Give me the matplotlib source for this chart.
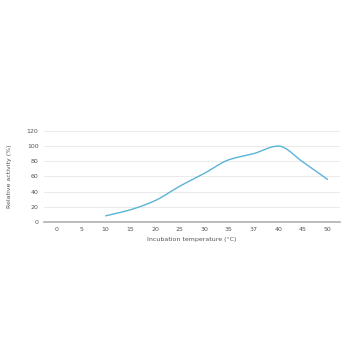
import numpy as np
import matplotlib
matplotlib.use("Agg")
import matplotlib.pyplot as plt

categories = ["0", "5", "10", "15", "20", "25", "30", "35", "37", "40", "45", "50"]
activity = [None, None, 8, 16, 28, 47, 64, 82, 90, 100, 79, 56]
y_ticks = [0, 20, 40, 60, 80, 100, 120]

def monotone(xs, ys, n=30):
    xs = np.asarray(xs, float); ys = np.asarray(ys, float)
    h = np.diff(xs); d = np.diff(ys) / h
    m = np.zeros_like(ys)
    m[0], m[-1] = d[0], d[-1]
    for i in range(1, len(ys) - 1):
        if d[i - 1] * d[i] <= 0:
            m[i] = 0
        else:
            w1 = 2 * h[i] + h[i - 1]; w2 = h[i] + 2 * h[i - 1]
            m[i] = (w1 + w2) / (w1 / d[i - 1] + w2 / d[i])
    X, Y = [], []
    for i in range(len(xs) - 1):
        t = np.linspace(0, 1, n)
        h00 = 2*t**3 - 3*t**2 + 1; h10 = t**3 - 2*t**2 + t
        h01 = -2*t**3 + 3*t**2; h11 = t**3 - t**2
        X.extend(xs[i] + t * h[i])
        Y.extend(h00*ys[i] + h10*h[i]*m[i] + h01*ys[i+1] + h11*h[i]*m[i+1])
    return np.array(X), np.array(Y)

fig = plt.figure(figsize=(3.5, 3.5), dpi=100)
ax = fig.add_axes([0.126, 0.366, 0.845, 0.26])
idx = [i for i, v in enumerate(activity) if v is not None]
vals = [activity[i] for i in idx]
sx, sy = monotone(idx, vals)
ax.plot(sx, sy, color="#5ab4d8", lw=1.0, solid_capstyle="round")

ax.set_xlim(-0.5, len(categories) - 0.5)
ax.set_ylim(0, 120)
ax.set_xticks(range(len(categories)))
ax.set_xticklabels(categories)
ax.set_yticks(y_ticks)
ax.tick_params(axis="both", labelsize=4.5, colors="#555555", length=0, pad=4)
ax.tick_params(axis="x", pad=3.5)
ax.grid(axis="y", color="#e6e6e6", lw=0.6)
ax.set_axisbelow(True)
for s in ["top", "right", "left"]:
    ax.spines[s].set_visible(False)
ax.spines["bottom"].set_color("#b0b0b0")
ax.spines["bottom"].set_linewidth(1.2)
ax.set_xlabel("Incubation temperature (°C)", fontsize=4.5, color="#555555", labelpad=4)
ax.set_ylabel("Relative activity (%)", fontsize=4.5, color="#555555", labelpad=11)
fig.savefig("out.png", dpi=100, facecolor="white")
